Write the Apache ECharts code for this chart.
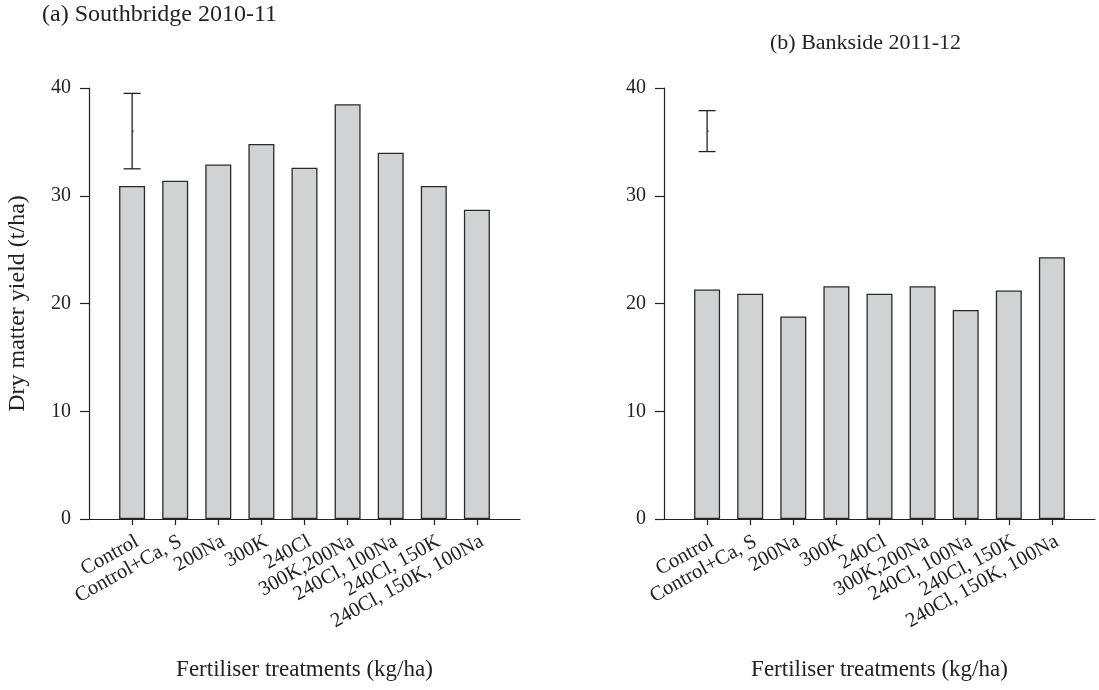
<!DOCTYPE html>
<html>
<head>
<meta charset="utf-8">
<script src="https://cdn.jsdelivr.net/npm/echarts@6/dist/echarts.min.js"></script>
<style>
  html, body { margin: 0; padding: 0; background: #fff; }
  #chart { width: 1099px; height: 690px; }
</style>
</head>
<body>
<div id="chart"></div>
<script>
// Fertiliser treatments (kg/ha)
const categories = ['Control', 'Control+Ca, S', '200Na', '300K', '240Cl',
  '300K,200Na', '240Cl, 100Na', '240Cl, 150K', '240Cl, 150K, 100Na'];

// Dry matter yield (t/ha)
const southbridgeYield = [30.9, 31.4, 32.9, 34.8, 32.6, 38.5, 34.0, 30.9, 28.7];
const banksideYield = [21.3, 20.9, 18.8, 21.6, 20.9, 21.6, 19.4, 21.2, 24.3];

// LSD bars drawn above the Control column: [low, high]
const southbridgeLsd = [32.5, 39.5];
const banksideLsd = [34.1, 37.9];

const panelTitles = ['(a) Southbridge 2010-11', '(b) Bankside 2011-12'];
const yName = 'Dry matter yield (t/ha)';
const xName = 'Fertiliser treatments (kg/ha)';
const yMax = 40;
const yStep = 10;

const FONT = '"Liberation Serif", "DejaVu Serif", serif';
const INK = '#222';

// one empty slot either side so the columns sit on ticks 1..9
const axisCats = [''].concat(categories, ['']);
const padded = arr => [null].concat(arr, [null]);

function xAxisFor(gridIndex) {
  return {
    type: 'category',
    gridIndex,
    data: axisCats,
    boundaryGap: false,
    name: xName,
    nameLocation: 'middle',
    nameGap: 139,
    nameTextStyle: { fontFamily: FONT, fontSize: 23, color: INK },
    axisLine: { lineStyle: { color: INK, width: 1.2 } },
    axisTick: {
      length: 6,
      interval: idx => idx > 0 && idx < axisCats.length - 1,
      lineStyle: { color: INK, width: 1.2 }
    },
    axisLabel: {
      interval: 0,
      rotate: 29,
      margin: 12,
      align: 'right',
      verticalAlign: 'top',
      fontFamily: FONT,
      fontSize: 20.5,
      color: INK
    },
    splitLine: { show: false }
  };
}

function yAxisFor(gridIndex, withName) {
  return {
    type: 'value',
    gridIndex,
    min: 0,
    max: yMax,
    interval: yStep,
    name: withName ? yName : '',
    nameLocation: 'middle',
    nameGap: 59,
    nameTextStyle: { fontFamily: FONT, fontSize: 24, color: INK },
    axisLine: { show: true, lineStyle: { color: INK, width: 1.2 } },
    axisTick: { show: true, length: 9, lineStyle: { color: INK, width: 1.2 } },
    axisLabel: { margin: 18, fontFamily: FONT, fontSize: 20, color: INK },
    splitLine: { show: false }
  };
}

function barSeries(idx, values) {
  return {
    type: 'bar',
    xAxisIndex: idx,
    yAxisIndex: idx,
    data: padded(values),
    barWidth: 26,
    itemStyle: { color: '#d1d2d4', borderColor: '#2a2a2a', borderWidth: 1.3 },
    silent: true
  };
}

function lsdSeries(idx, range) {
  const mid = (range[0] + range[1]) / 2;
  return {
    type: 'custom',
    xAxisIndex: idx,
    yAxisIndex: idx,
    silent: true,
    data: [[1, range[0], range[1], mid]],
    renderItem: (params, api) => {
      const lo = api.coord([api.value(0), api.value(1)]);
      const hi = api.coord([api.value(0), api.value(2)]);
      const md = api.coord([api.value(0), api.value(3)]);
      const cap = 8.5;
      const style = { stroke: INK, lineWidth: 1.3 };
      return {
        type: 'group',
        children: [
          { type: 'line', shape: { x1: hi[0], y1: hi[1], x2: lo[0], y2: lo[1] }, style },
          { type: 'line', shape: { x1: hi[0] - cap, y1: hi[1], x2: hi[0] + cap, y2: hi[1] }, style },
          { type: 'line', shape: { x1: lo[0] - cap, y1: lo[1], x2: lo[0] + cap, y2: lo[1] }, style },
          { type: 'line', shape: { x1: md[0], y1: md[1], x2: md[0] + 1.5, y2: md[1] }, style }
        ]
      };
    }
  };
}

const chart = echarts.init(document.getElementById('chart'), null, { renderer: 'canvas' });
chart.setOption({
  backgroundColor: '#fff',
  animation: false,
  title: [
    { text: panelTitles[0], left: 42, top: 3, padding: 0,
      textStyle: { fontFamily: FONT, fontSize: 24, fontWeight: 'normal', color: INK } },
    { text: panelTitles[1], left: 770, top: 32, padding: 0,
      textStyle: { fontFamily: FONT, fontSize: 22, fontWeight: 'normal', color: INK } }
  ],
  grid: [
    { left: 89, top: 88, width: 431, height: 431 },
    { left: 664, top: 88, width: 431, height: 431 }
  ],
  xAxis: [xAxisFor(0), xAxisFor(1)],
  yAxis: [yAxisFor(0, true), yAxisFor(1, false)],
  series: [
    barSeries(0, southbridgeYield),
    barSeries(1, banksideYield),
    lsdSeries(0, southbridgeLsd),
    lsdSeries(1, banksideLsd)
  ]
});
</script>
</body>
</html>
